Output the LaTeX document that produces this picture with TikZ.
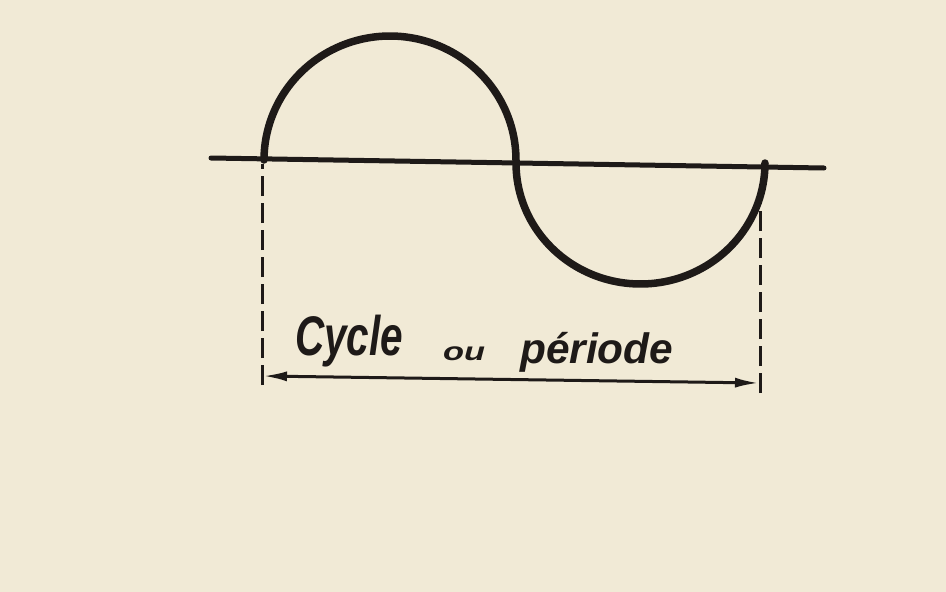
\documentclass[tikz,border=0pt]{standalone}
\usepackage{graphicx}
\usepackage{fontspec}
\setmainfont{Liberation Sans}
\usetikzlibrary{arrows.meta}
\definecolor{paper}{RGB}{241,234,214}
\definecolor{ink}{RGB}{30,26,24}
\begin{document}
\begin{tikzpicture}[x=1pt,y=-1pt,
  curve/.style={draw=ink,line width=7.5pt,line cap=round,line join=round},
  axisline/.style={draw=ink,line width=5pt,line cap=round},
  guide/.style={draw=ink,line width=3pt,dash pattern=on 20pt off 7pt},
  dim/.style={draw=ink,line width=3pt,{Latex[length=24pt,width=10pt]}-{Latex[length=24pt,width=10pt]}},
  lbl/.style={inner sep=0pt,anchor=south west,text=ink,font=\bfseries\itshape}]
\fill[paper] (0,0) rectangle (946,592);
\useasboundingbox (0,0) rectangle (946,592);
% axis
\coordinate (axL) at (211,158);
\coordinate (axR) at (824,168);
\draw[axisline] (axL) -- (axR);
% wave
\draw[curve] plot[domain=180:360,samples=90] ({390+126*cos(\x)},{160+124*sin(\x)})
  -- plot[domain=180:0,samples=90] ({640.5+124.5*cos(\x)},{163+121*sin(\x)});
% guides
\coordinate (gL1) at (262,164);
\coordinate (gL2) at (262,385);
\draw[guide] (gL2) -- (gL1);
\coordinate (gR1) at (760,200);
\coordinate (gR2) at (760,393);
\draw[guide] (gR2) -- (gR1);
% dimension arrow
\coordinate (aL) at (263,376);
\coordinate (aR) at (759,383);
\draw[dim] (aL) -- (aR);
% label
\node[lbl] (cyc) at (295,367) {\resizebox*{108pt}{52pt}{Cycle}};
\node[lbl] (ou) at (443,361) {\resizebox*{42pt}{14pt}{ou}};
\node[lbl] (per) at (520,373) {\resizebox*{153pt}{40pt}{période}};
\end{tikzpicture}
\end{document}
